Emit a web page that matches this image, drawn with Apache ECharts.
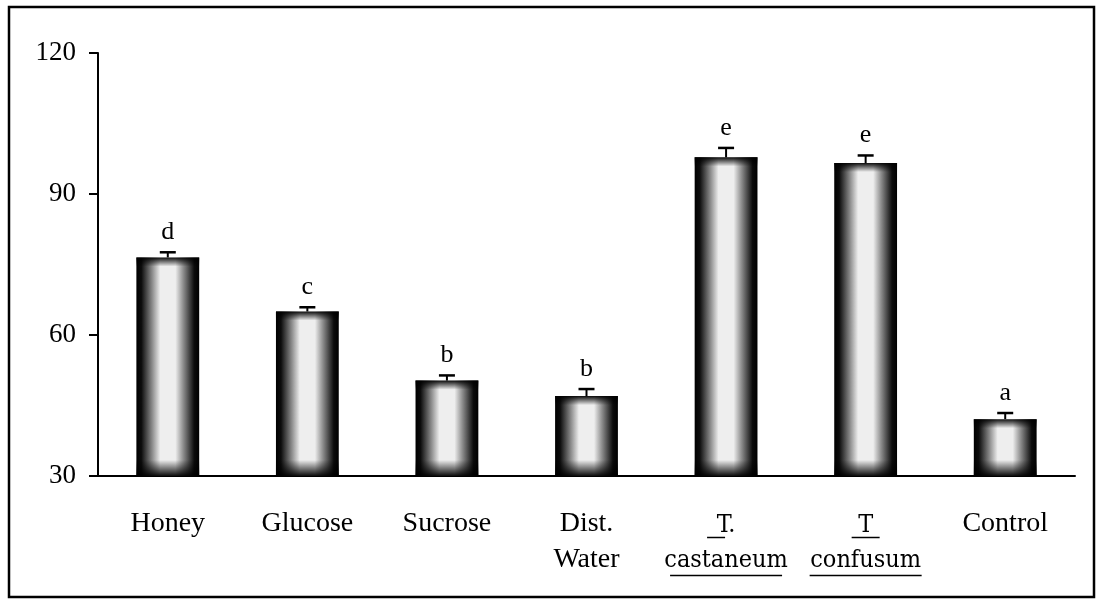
<!DOCTYPE html>
<html>
<head>
<meta charset="utf-8">
<script src="https://cdn.jsdelivr.net/npm/echarts/dist/echarts.min.js"></script>
<style>
  html, body { margin: 0; padding: 0; background: #fff; }
  #chart { width: 1104px; height: 603px; }
</style>
</head>
<body>
<div id="chart"></div>
<script>
// values
const categories = ['Honey', 'Glucose', 'Sucrose', 'Dist.\nWater', 'T.\ncastaneum', 'T\nconfusum', 'Control']
const means = [76.5, 65.0, 50.3, 47.0, 97.8, 96.6, 42.1]
const errors = [1.1, 0.9, 1.1, 1.5, 2.0, 1.6, 1.3]
const letters = ['d', 'c', 'b', 'b', 'e', 'e', 'a']
const yTicks = [30, 60, 90, 120]

const serif = 'Liberation Serif'
const species = '"DejaVu Serif Condensed", "DejaVu Serif", serif'
const yMin = yTicks[0], yMax = yTicks[yTicks.length - 1]
const pxPerUnit = 423 / (yMax - yMin)

const chart = echarts.init(document.getElementById('chart'))

// dark top / bottom ends of each bar (fixed pixel size, whatever the bar height)
function endShade(params) {
  const h = Math.max((params.value - yMin) * pxPerUnit, 1)
  const ft = Math.min(9 / h, 0.3)
  const fb = Math.min(16 / h, 0.35)
  return {
    type: 'linear', x: 0, y: 0, x2: 0, y2: 1,
    colorStops: [
      { offset: 0, color: 'rgba(0,0,0,0.95)' },
      { offset: ft, color: 'rgba(0,0,0,0)' },
      { offset: 1 - fb, color: 'rgba(0,0,0,0)' },
      { offset: 1, color: 'rgba(0,0,0,0.95)' },
    ],
  }
}

function xLabel(v) {
  if (v[0] !== 'T') return v
  const [genus, sp] = v.split('\n')
  const gu = genus.indexOf('.') > -1 ? '{ug|}{gap|}' : '{ug2|}'
  return '{sp|}\n{g|' + genus + '}\n' + gu + '\n{sp2|}\n{s|' + sp + '}\n{us|}'
}

chart.setOption({
  animation: false,
  backgroundColor: '#fff',
  graphic: [{
    type: 'rect',
    shape: { x: 9, y: 7, width: 1085, height: 590 },
    style: { fill: 'none', stroke: '#000', lineWidth: 2.5 },
    silent: true,
  }],
  grid: { left: 98, right: 29, top: 53, bottom: 127 },
  xAxis: {
    type: 'category',
    data: categories,
    axisLine: { lineStyle: { color: '#000', width: 2 } },
    axisTick: { length: 9, lineStyle: { color: '#000', width: 2 } },
    axisLabel: {
      color: '#000',
      fontFamily: serif,
      fontSize: 28,
      lineHeight: 36,
      margin: 30,
      interval: 0,
      formatter: xLabel,
      rich: {
        sp: { lineHeight: 8, fontSize: 4 },
        sp2: { lineHeight: 7, fontSize: 4 },
        g: { fontFamily: species, fontSize: 25, lineHeight: 22, color: '#000' },
        ug: { width: 18, height: 1.5, lineHeight: 3, backgroundColor: '#000' },
        ug2: { width: 28, height: 1.5, lineHeight: 3, backgroundColor: '#000' },
        gap: { width: 20, height: 1.5, lineHeight: 3 },
        s: { fontFamily: species, fontSize: 25, lineHeight: 28, color: '#000' },
        us: { width: 112, height: 1.5, lineHeight: 3, backgroundColor: '#000' },
      },
    },
    splitLine: { show: false },
  },
  yAxis: {
    type: 'value',
    min: yMin,
    max: yMax,
    interval: 30,
    axisLine: { show: true, lineStyle: { color: '#000', width: 2 } },
    axisTick: { show: true, length: 9, lineStyle: { color: '#000', width: 2 } },
    axisLabel: { color: '#000', fontFamily: serif, fontSize: 27, margin: 22 },
    splitLine: { show: false },
  },
  series: [
    {
      type: 'bar',
      data: means,
      barCategoryGap: '55%',
      itemStyle: {
        color: {
          type: 'linear', x: 0, y: 0, x2: 1, y2: 0,
          colorStops: [
            { offset: 0, color: '#000' },
            { offset: 0.08, color: '#0c0c0c' },
            { offset: 0.25, color: '#8a8a8a' },
            { offset: 0.38, color: '#eeeeee' },
            { offset: 0.62, color: '#eeeeee' },
            { offset: 0.75, color: '#8a8a8a' },
            { offset: 0.92, color: '#0c0c0c' },
            { offset: 1, color: '#000' },
          ],
        },
      },
    },
    {
      type: 'bar',
      data: means,
      barGap: '-100%',
      barCategoryGap: '55%',
      itemStyle: { color: endShade },
    },
    {
      type: 'custom',
      z: 5,
      data: means.map((m, i) => [i, m, errors[i]]),
      renderItem(params, api) {
        const i = api.value(0)
        const base = api.coord([i, api.value(1)])
        const top = api.coord([i, api.value(1) + api.value(2)])
        const hw = 8
        return {
          type: 'group',
          children: [
            { type: 'line', shape: { x1: top[0], y1: base[1], x2: top[0], y2: top[1] }, style: { stroke: '#000', lineWidth: 2 } },
            { type: 'line', shape: { x1: top[0] - hw, y1: top[1], x2: top[0] + hw, y2: top[1] }, style: { stroke: '#000', lineWidth: 2.5 } },
            {
              type: 'text', x: top[0], y: top[1] - 7,
              style: { text: letters[params.dataIndex], fill: '#000', font: '26px "Liberation Serif"', align: 'center', verticalAlign: 'bottom' },
            },
          ],
        }
      },
    },
  ],
})
</script>
</body>
</html>
